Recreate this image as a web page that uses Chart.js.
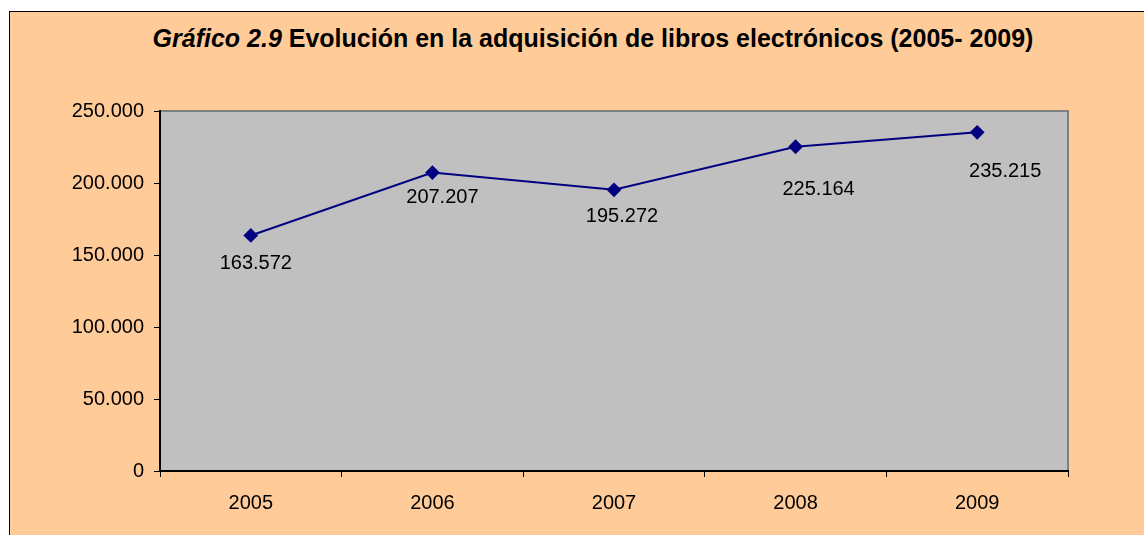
<!DOCTYPE html>
<html>
<head>
<meta charset="utf-8">
<script src="https://cdn.jsdelivr.net/npm/chart.js@4/dist/chart.umd.min.js"></script>
<style>
    html, body { margin: 0; padding: 0; background: #fff; overflow: hidden; }
    #wrap { position: relative; width: 1144px; height: 535px; overflow: hidden; }
    #frame {
        position: absolute; left: 9px; top: 11px; width: 1200px; height: 600px;
        background: #FFCC99; border: 1px solid #000; box-sizing: border-box;
    }
    #title {
        position: absolute; left: 0; top: 24px; width: 1186px; text-align: center;
        font: bold 25px "Liberation Sans", Arial, sans-serif; color: #000;
    }
    #chartBox { position: absolute; left: 0; top: 0; width: 1144px; height: 535px; }
</style>
</head>
<body>
<div id="wrap">
    <div id="frame"></div>
    <div id="title"><i>Gráfico 2.9</i> Evolución en la adquisición de libros electrónicos (2005- 2009)</div>
    <div id="chartBox"><canvas id="lineChart" width="1144" height="535"></canvas></div>
</div>
<script>
const years = ['2005', '2006', '2007', '2008', '2009'];
const adquisiciones = [163572, 207207, 195272, 225164, 235215];
const yTicks = [0, 50000, 100000, 150000, 200000, 250000];

// label nudges (px) relative to each point, as placed in the original
const labelDx = [5, 10, 8, 23, 28];
const labelDy = [28, 25, 27, 43, 39];

function formatNumber(v) {
    return v.toString().replace(/\B(?=(\d{3})+(?!\d))/g, '.');
}

const plotArea = {
    id: 'plotArea',
    beforeDraw(chart) {
        const { ctx, chartArea: a } = chart;
        ctx.save();
        ctx.fillStyle = '#C0C0C0';
        ctx.fillRect(a.left, a.top, a.right - a.left, a.bottom - a.top);
        ctx.strokeStyle = '#808080';
        ctx.lineWidth = 2;
        ctx.beginPath();
        ctx.moveTo(a.left, a.top);
        ctx.lineTo(a.right, a.top);
        ctx.lineTo(a.right, a.bottom);
        ctx.stroke();
        ctx.restore();
    }
};

const pointLabels = {
    id: 'pointLabels',
    afterDatasetsDraw(chart) {
        const { ctx } = chart;
        const meta = chart.getDatasetMeta(0);
        ctx.save();
        ctx.font = '20px "Liberation Sans", Arial, sans-serif';
        ctx.fillStyle = '#000';
        ctx.textAlign = 'center';
        ctx.textBaseline = 'middle';
        meta.data.forEach((pt, i) => {
            ctx.fillText(formatNumber(adquisiciones[i]), pt.x + labelDx[i], pt.y + labelDy[i]);
        });
        ctx.restore();
    }
};

const ctx = document.getElementById('lineChart').getContext('2d');
new Chart(ctx, {
    type: 'line',
    data: {
        labels: years,
        datasets: [{
            label: 'Libros electrónicos',
            data: adquisiciones,
            borderColor: '#000080',
            backgroundColor: '#000080',
            borderWidth: 2,
            pointStyle: 'rectRot',
            pointRadius: 6,
            pointHoverRadius: 6,
            tension: 0
        }]
    },
    options: {
        responsive: false,
        animation: false,
        layout: { padding: { left: 0, right: 76, top: 111, bottom: 0 } },
        plugins: {
            legend: { display: false },
            tooltip: { enabled: false },
            title: { display: false }
        },
        scales: {
            x: {
                type: 'category',
                offset: true,
                grid: { offset: true, drawOnChartArea: false, tickLength: 6, color: '#000', lineWidth: 1 },
                border: { color: '#000', width: 2 },
                ticks: {
                    color: '#000',
                    padding: 14,
                    font: { family: '"Liberation Sans", Arial, sans-serif', size: 20 }
                },
                afterFit(scale) { scale.height = 64; }
            },
            y: {
                min: 0,
                max: 250000,
                afterBuildTicks(scale) { scale.ticks = yTicks.map(v => ({ value: v })); },
                grid: { drawOnChartArea: false, tickLength: 6, color: '#000', lineWidth: 1 },
                border: { color: '#000', width: 2 },
                ticks: {
                    color: '#000',
                    padding: 10,
                    font: { family: '"Liberation Sans", Arial, sans-serif', size: 20 },
                    callback: v => formatNumber(v)
                },
                afterFit(scale) { scale.width = 160; }
            }
        }
    },
    plugins: [plotArea, pointLabels]
});
</script>
</body>
</html>
